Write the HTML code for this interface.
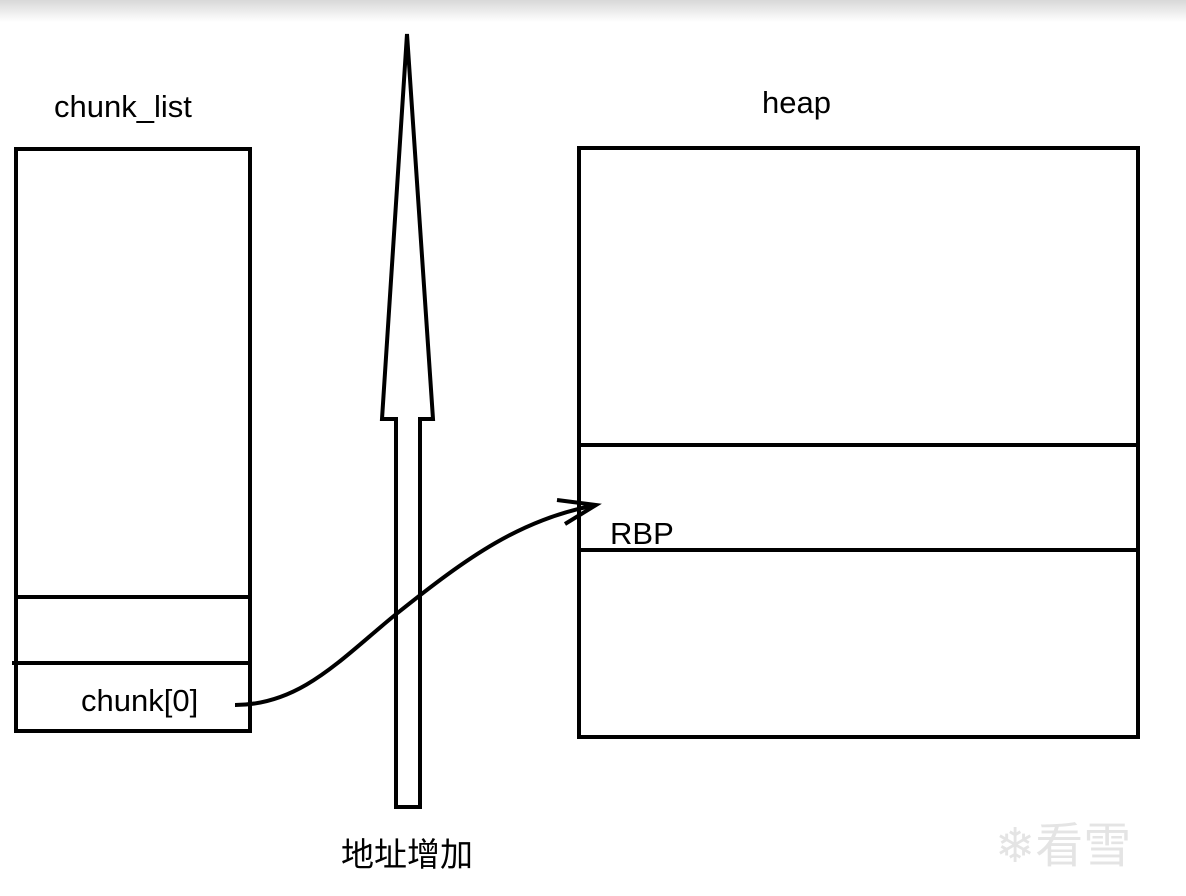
<!DOCTYPE html>
<html><head><meta charset="utf-8"><style>
body{margin:0;width:1186px;height:896px;background:#fff;overflow:hidden;position:relative;font-family:"Liberation Sans","Noto Sans CJK SC",sans-serif}
.t{position:absolute;font-size:31px;color:#000;white-space:nowrap}
</style></head><body>
<div style="position:absolute;left:0;top:0;width:1186px;height:22px;background:linear-gradient(#d8d8d8,#fff)"></div>
<svg width="1186" height="896" style="position:absolute;left:0;top:0">
<g fill="none" stroke="#000" stroke-width="4">
<rect x="16" y="149" width="234" height="582"/>
<line x1="16" y1="597" x2="250" y2="597"/>
<line x1="12" y1="663" x2="250" y2="663"/>
<rect x="579" y="148" width="559" height="589"/>
<line x1="579" y1="445" x2="1138" y2="445"/>
<line x1="579" y1="550" x2="1138" y2="550"/>
<path d="M396,807 L396,419 L382,419 L407,34 L433,419 L420,419 L420,807 Z" stroke-linejoin="miter"/>
<path d="M235,705 C300,705 340,660 395,615 C470,555 520,520 596,505"/>
<path d="M557,500 L596,505 L565,524"/>
</g>
</svg>
<div class="t" style="left:54px;top:89px">chunk_list</div>
<div class="t" style="left:762px;top:85px">heap</div>
<div class="t" style="left:81px;top:683px">chunk[0]</div>
<div class="t" style="left:610px;top:516px">RBP</div>
<div class="t" style="left:341px;top:828px;font-size:33px">地址增加</div>
<div class="t" style="left:995px;top:806px;font-size:48px;color:#e4e4e4">❄看雪</div>
</body></html>
